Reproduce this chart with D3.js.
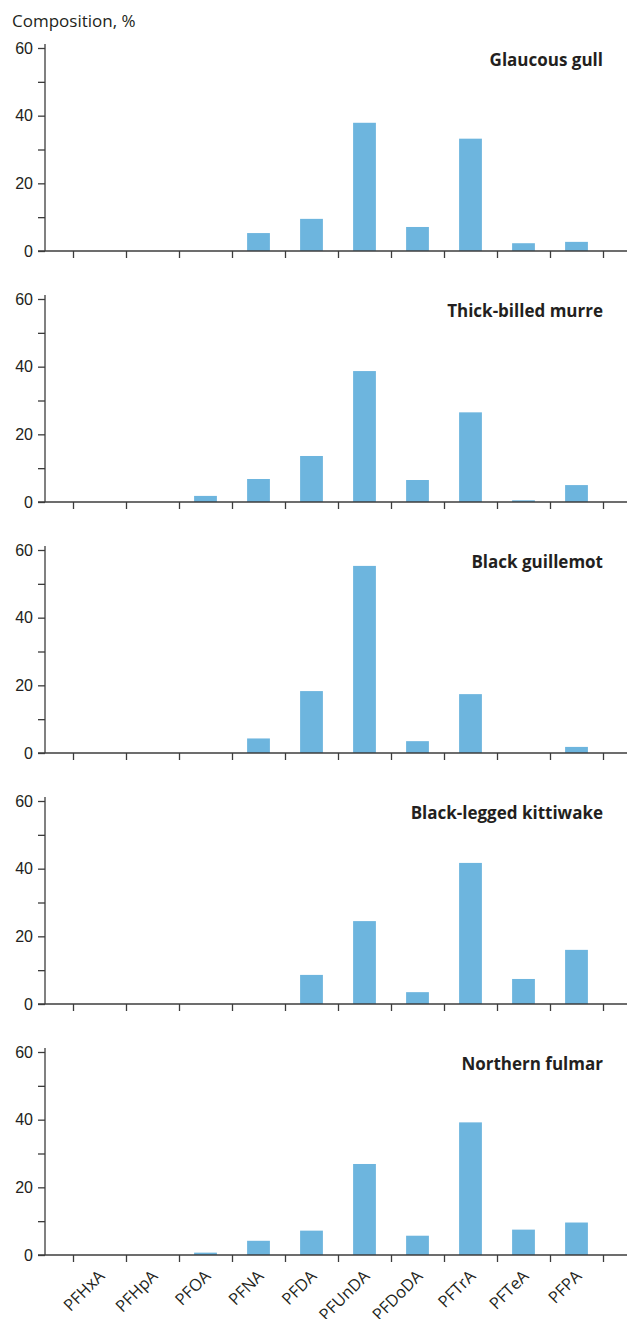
<!DOCTYPE html>
<html>
<head>
<meta charset="utf-8">
<title>PFCA composition</title>
<script src="https://d3js.org/d3.v7.min.js"></script>
<style>
  body { margin: 0; background: #fff; }
  svg { font-family: "Open Sans", "Noto Sans", sans-serif; }
  .axis path, .axis line { stroke: #3c3c3c; stroke-width: 1.3px; }
  .axis text { fill: #231f20; font-size: 16px; }
  .title { font-size: 17px; font-weight: bold; fill: #231f20; }
</style>
</head>
<body>
<script>
// compounds on the x axis
var compounds = ["PFHxA", "PFHpA", "PFOA", "PFNA", "PFDA", "PFUnDA", "PFDoDA", "PFTrA", "PFTeA", "PFPA"];

// species (one panel each)
var species = ["Glaucous gull", "Thick-billed murre", "Black guillemot", "Black-legged kittiwake", "Northern fulmar"];

// composition, %
var glaucousGull   = [0, 0, 0,   5.3, 9.5,  37.9, 7.1, 33.2, 2.3, 2.7];
var thickBilled    = [0, 0, 1.8, 6.8, 13.6, 38.7, 6.5, 26.5, 0.5, 5.0];
var blackGuillemot = [0, 0, 0,   4.3, 18.3, 55.3, 3.5, 17.4, 0,   1.8];
var kittiwake      = [0, 0, 0,   0,   8.6,  24.5, 3.5, 41.7, 7.4, 16.0];
var fulmar         = [0, 0, 0.7, 4.2, 7.2,  26.9, 5.7, 39.2, 7.5, 9.6];

var seriesValues = [glaucousGull, thickBilled, blackGuillemot, kittiwake, fulmar];

var yTicks = [0, 10, 20, 30, 40, 50, 60];

var width = 627, height = 1319;
var barColor = "#6db5de";

var svg = d3.select("body").append("svg")
    .attr("width", width)
    .attr("height", height);

// shared x scale
var x = d3.scaleBand()
    .domain(compounds)
    .range([73, 603])
    .paddingInner(0.57)
    .paddingOuter(0.285);

// boundaries between categories for the tick marks
var xEdge = d3.scaleLinear().domain([0, compounds.length]).range([73, 603]);

var axisX = 45;
var firstBase = 251, panelStep = 251, panelH = 203;

svg.append("text")
    .attr("x", 12)
    .attr("y", 27)
    .attr("font-size", 17)
    .attr("fill", "#231f20")
    .text("Composition, %");

species.forEach(function(name, i) {
    var base = firstBase + i * panelStep;
    var y = d3.scaleLinear().domain([0, 60]).range([base, base - panelH]);

    var g = svg.append("g");

    // bars
    g.selectAll("rect")
        .data(seriesValues[i])
        .enter().append("rect")
            .attr("x", function(d, j) { return x(compounds[j]); })
            .attr("width", x.bandwidth())
            .attr("y", function(d) { return y(d); })
            .attr("height", function(d) { return base - y(d); })
            .attr("fill", barColor);

    // y axis
    var yAxis = g.append("g")
        .attr("class", "axis")
        .attr("transform", "translate(" + axisX + ",0)")
        .call(d3.axisLeft(y)
            .tickValues(yTicks)
            .tickSize(7)
            .tickSizeOuter(0)
            .tickPadding(5)
            .tickFormat(function(d) { return d % 20 === 0 ? d : ""; }));
    yAxis.select(".domain").remove();
    yAxis.append("line")
        .attr("x1", 0).attr("x2", 0)
        .attr("y1", y(60) - 4).attr("y2", base);

    // x axis: tick marks at category boundaries
    var xAxis = g.append("g")
        .attr("class", "axis")
        .attr("transform", "translate(0," + base + ")")
        .call(d3.axisBottom(xEdge)
            .tickValues(d3.range(0, compounds.length + 1))
            .tickSize(7)
            .tickSizeOuter(0)
            .tickFormat(""));
    xAxis.select(".domain").remove();
    xAxis.append("line")
        .attr("x1", axisX - 7).attr("x2", width)
        .attr("y1", 0).attr("y2", 0);

    // panel title
    g.append("text")
        .attr("class", "title")
        .attr("x", 603)
        .attr("y", y(60) + 18)
        .attr("text-anchor", "end")
        .text(name);

    // category labels on the bottom panel only
    if (i === species.length - 1) {
        g.selectAll(".xlab")
            .data(compounds)
            .enter().append("text")
                .attr("class", "xlab")
                .attr("text-anchor", "end")
                .attr("font-size", 16.5)
                .attr("fill", "#231f20")
                .attr("dy", "0.35em")
                .attr("transform", function(d) {
                    return "translate(" + (x(d) + x.bandwidth() / 2 + 2) + "," + (base + 18) + ") rotate(-45)";
                })
                .text(function(d) { return d; });
    }
});
</script>
</body>
</html>
